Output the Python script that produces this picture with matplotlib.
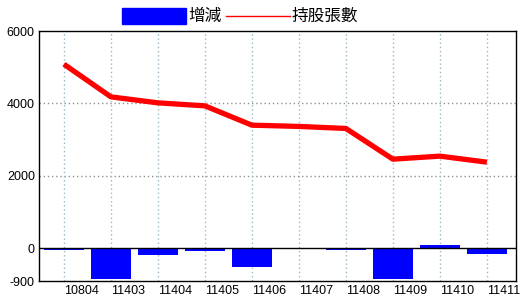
import matplotlib
matplotlib.use("Agg")
import matplotlib.pyplot as plt
import matplotlib.transforms as mtransforms
from matplotlib.patches import Rectangle
from matplotlib.lines import Line2D

plt.rcParams['font.family'] = ['Noto Sans CJK TC', 'DejaVu Sans']

categories = ["10804", "11403", "11404", "11405", "11406", "11407", "11408", "11409", "11410", "11411"]
change = [-40, -840, -176, -66, -507, 0, -40, -838, 92, -157]
holdings = [5084, 4182, 4017, 3934, 3401, 3366, 3310, 2463, 2546, 2380]
y_ticks = [-900, 0, 2000, 4000, 6000]

fig = plt.figure(figsize=(5.2, 3.0), dpi=100)
ax = fig.add_axes([39/520, 1-281/300, (516-39)/520, (281-31)/300])

x = list(range(len(categories)))
ax.bar(x, change, width=0.85, color='#0000ff', zorder=2)
ax.plot(x, holdings, color='#ff0000', linewidth=3.8, zorder=3, solid_capstyle='butt')
ax.axhline(0, color='black', linewidth=1, zorder=2.5)

ax.set_xlim(-0.53, 9.62)
ax.set_ylim(-900, 6000)
ax.set_yticks(y_ticks)
ax.set_yticklabels([str(v) for v in y_ticks], fontsize=9, family='Liberation Sans')
ax.set_xticks(x)
ax.set_xticklabels(categories, fontsize=9, family='Liberation Sans', ha='left')
offset = mtransforms.ScaledTranslation(1.5/100, 0, fig.dpi_scale_trans)
for lab in ax.get_xticklabels():
    lab.set_transform(lab.get_transform() + offset)

ax.tick_params(axis='both', length=0, pad=3)
ax.xaxis.grid(True, linestyle=(0, (1, 2)), color='#9ab8c8', linewidth=1)
for yv in [2000, 4000]:
    ax.axhline(yv, linestyle=(0, (1, 2)), color='#909090', linewidth=1, zorder=1)
for s in ax.spines.values():
    s.set_color('black')
    s.set_linewidth(1)

# legend
fig.patches.append(Rectangle((122/520, 1-24/300), 64/520, 16/300, transform=fig.transFigure,
                             color='#0000ff', figure=fig))
fig.text(188/520, 1-16/300, "增減", fontsize=12, va='center', ha='left')
fig.lines.append(Line2D([226/520, 290/520], [1-16/300, 1-16/300], transform=fig.transFigure,
                        color='#ff0000', linewidth=1, figure=fig))
fig.text(292/520, 1-16/300, "持股張數", fontsize=12, va='center', ha='left')

fig.savefig("out.png", dpi=100)
